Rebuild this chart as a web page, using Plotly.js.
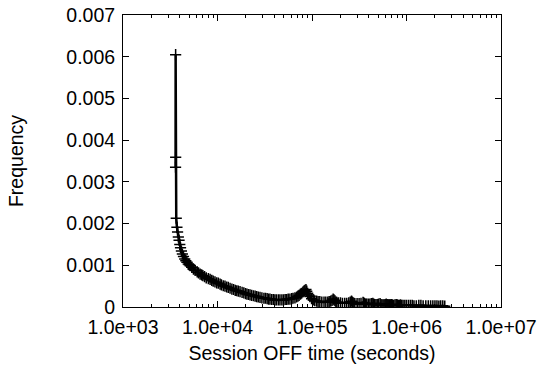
<!DOCTYPE html>
<html>
<head>
<meta charset="utf-8">
<script src="https://cdn.plot.ly/plotly-3.0.1.min.js"></script>
<style>html,body{margin:0;padding:0;background:#fff;}#chart{width:549px;height:366px;}</style>
</head>
<body>
<div id="chart"></div>
<script>
// Session OFF time (seconds)
const offTime = [3600,3605,3610,3660,3720,3780,3850,3920,3990,4060,4150,4250,4365,4500,4620,4742,4900,5020,5140,5350,5566,5800,6100,6300,6548,6800,7000,7300,7600,8000,8350,8700,9000,9400,9800,10200,10650,11000,11500,12000,12500,13000,13580,14200,14800,15400,16000,16600,17320,18200,19000,19800,20500,21300,22090,23000,24000,25000,26000,27000,28170,29500,31000,32200,33500,34700,35920,37500,39000,40500,42000,44000,45810,48000,50000,52000,54000,56000,58400,61000,63000,66000,68700,71000,73000,75500,77600,80000,82000,84000,86300,88000,90000,92500,95100,99000,103000,107000,112000,116000,121000,127000,134000,140000,147000,152000,158000,163000,167500,171000,175000,179000,183000,190000,200000,210000,222000,233000,245000,254000,262000,267000,272000,278000,284000,300000,315000,330000,347000,353000,360000,370000,380000,395000,410000,425000,440000,450000,460000,475000,490000,505000,525000,537000,550000,565000,580000,595000,610000,625000,640000,652000,665000,678000,692000,710000,730000,755000,778000,800000,820000,842000,864000,890000,920000,960000,1000000,1050000,1100000,1150000,1200000,1270000,1350000,1420000,1500000,1600000,1700000,1800000,1900000,2000000,2100000,2200000,2300000,2420000,2540000];
// Frequency
const frequency = [0.00335,0.00605,0.00359,0.00213,0.00191,0.00180,0.00168,0.00160,0.00150,0.00142,0.00134,0.00127,0.00121,0.00115,0.00111,0.00107,0.00103,0.00101,0.00099,0.00095,0.00091,0.00088,0.00084,0.00082,0.00079,0.00077,0.00075,0.00073,0.00070,0.00068,0.00066,0.00064,0.00062,0.00060,0.00058,0.00057,0.00055,0.00053,0.00051,0.00050,0.00048,0.00047,0.00045,0.00043,0.00042,0.00040,0.00039,0.00038,0.00037,0.00035,0.00034,0.00032,0.00031,0.00030,0.00029,0.00028,0.00027,0.00026,0.00025,0.00024,0.00023,0.00022,0.00021,0.00021,0.00020,0.00019,0.00019,0.00018,0.00018,0.00017,0.00017,0.00017,0.00017,0.00017,0.00017,0.00018,0.00018,0.00019,0.00019,0.00020,0.00021,0.00022,0.00024,0.00026,0.00028,0.00031,0.00033,0.00036,0.00038,0.00040,0.00042,0.00038,0.00033,0.00029,0.00025,0.00020,0.00017,0.00015,0.00014,0.00013,0.00013,0.00012,0.00012,0.00012,0.00012,0.00013,0.00014,0.00016,0.00019,0.00017,0.00015,0.00012,0.00011,0.00010,0.00010,0.00009,0.00009,0.00009,0.00010,0.00012,0.00014,0.00012,0.00010,0.00009,0.00008,0.00008,0.00008,0.00009,0.00011,0.00010,0.00008,0.00007,0.00007,0.00007,0.00007,0.00008,0.00009,0.00007,0.00006,0.00006,0.00006,0.00007,0.00008,0.00006,0.00005,0.00005,0.00005,0.00006,0.00007,0.00006,0.00005,0.00005,0.00005,0.00005,0.00006,0.00005,0.00004,0.00005,0.00006,0.00005,0.00004,0.00004,0.00005,0.00004,0.00004,0.00004,0.00004,0.00004,0.00004,0.00004,0.00003,0.00003,0.00004,0.00004,0.00003,0.00003,0.00003,0.00003,0.00003,0.00003,0.00003,0.00002,0.00003,0.00003,0.00002,0.00002];
// Tick labels
const xTickVals = [1e3, 1e4, 1e5, 1e6, 1e7];
const xTickText = ['1.0e+03', '1.0e+04', '1.0e+05', '1.0e+06', '1.0e+07'];
const yTickVals = [0, 0.001, 0.002, 0.003, 0.004, 0.005, 0.006, 0.007];
const yTickText = ['0', '0.001', '0.002', '0.003', '0.004', '0.005', '0.006', '0.007'];

const minorVals = [];
for (let d = 0; d < xTickVals.length - 1; d++) {
  for (let k = 2; k <= 9; k++) minorVals.push(xTickVals[d] * k);
}

const FONT = 'Liberation Sans, Arial, Helvetica, sans-serif';
const FS = 19.5;

const trace = {
  x: offTime,
  y: frequency,
  type: 'scatter',
  mode: 'lines+markers',
  line: {color: '#000', width: 2.5},
  marker: {symbol: 'cross-thin', size: 8, color: '#000', line: {color: '#000', width: 1.5}},
  showlegend: false
};

const layout = {
  width: 549,
  height: 366,
  margin: {l: 122.5, r: 47.5, t: 14.5, b: 59},
  paper_bgcolor: '#fff',
  plot_bgcolor: '#fff',
  font: {family: FONT, size: FS, color: '#000'},
  xaxis: {
    type: 'log',
    range: [3, 7],
    tickmode: 'array',
    tickvals: xTickVals,
    ticktext: xTickText,
    ticks: 'inside',
    ticklen: 6,
    tickwidth: 1,
    tickcolor: '#000',
    ticklabelstandoff: 3,
    showline: true,
    linecolor: '#000',
    linewidth: 1,
    mirror: 'ticks',
    showgrid: false,
    zeroline: false,
    tickfont: {family: FONT, size: FS, color: '#000'},
    minor: {tickmode: 'array', tickvals: minorVals, ticks: 'inside', ticklen: 3, tickcolor: '#000', tickwidth: 1, showgrid: false},
    title: {text: 'Session OFF time (seconds)', font: {family: FONT, size: FS, color: '#000'}, standoff: 8}
  },
  yaxis: {
    range: [0, 0.007],
    tickmode: 'array',
    tickvals: yTickVals,
    ticktext: yTickText,
    ticks: 'inside',
    ticklen: 6,
    tickwidth: 1,
    tickcolor: '#000',
    ticklabelstandoff: 3,
    showline: true,
    linecolor: '#000',
    linewidth: 1,
    mirror: 'ticks',
    showgrid: false,
    zeroline: false,
    tickfont: {family: FONT, size: FS, color: '#000'},
    title: {text: 'Frequency', font: {family: FONT, size: FS, color: '#000'}, standoff: 37}
  }
};

Plotly.newPlot('chart', [trace], layout, {displayModeBar: false, staticPlot: true});
</script>
</body>
</html>
